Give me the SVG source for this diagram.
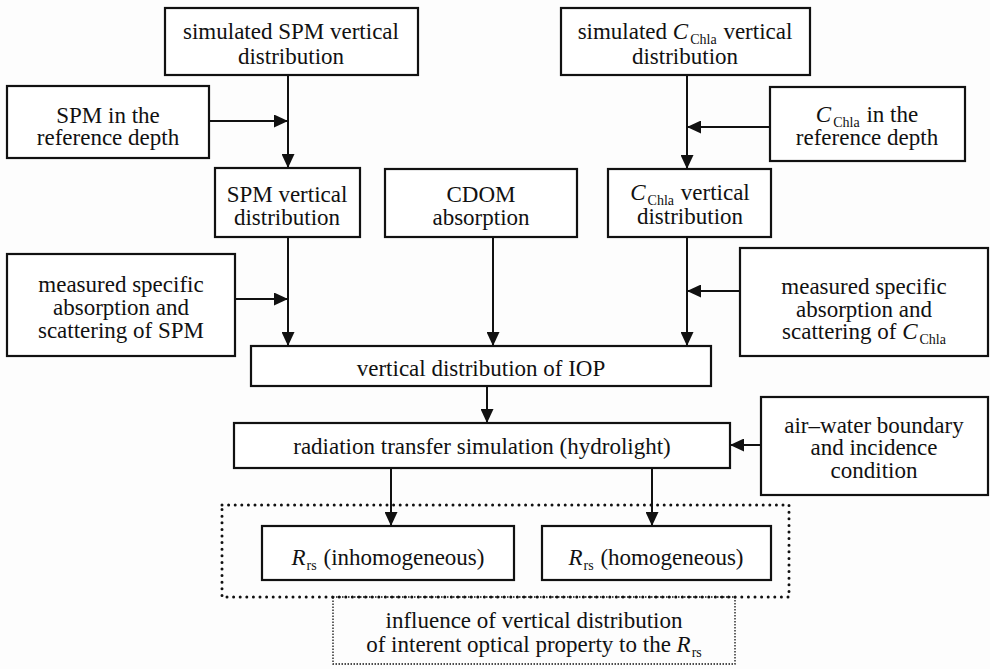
<svg xmlns="http://www.w3.org/2000/svg" width="990" height="669" viewBox="0 0 990 669">
<defs>
<style>
.box{fill:#fff;stroke:#111;stroke-width:2.2}
.t{font-family:'Liberation Serif','Times New Roman',serif;font-size:23px;fill:#111;text-anchor:middle}
.sub{font-size:14px}
.it{font-style:italic}
.c{stroke:#111;stroke-width:2;fill:none}
</style>
<marker id="ah" markerUnits="userSpaceOnUse" markerWidth="15" markerHeight="13" refX="14" refY="6.5" orient="auto">
<path d="M0,0 L14,6.5 L0,13 z" fill="#111"/>
</marker>
</defs>
<rect width="990" height="669" fill="#fdfdfd"/>

<g id="connectors">
<line class="c" x1="288" y1="75" x2="288" y2="168" marker-end="url(#ah)"/>
<line class="c" x1="209" y1="121" x2="288" y2="121" marker-end="url(#ah)"/>
<line class="c" x1="687" y1="75" x2="687" y2="169" marker-end="url(#ah)"/>
<line class="c" x1="770" y1="127" x2="687" y2="127" marker-end="url(#ah)"/>
<line class="c" x1="288" y1="237" x2="288" y2="346" marker-end="url(#ah)"/>
<line class="c" x1="235" y1="299" x2="288" y2="299" marker-end="url(#ah)"/>
<line class="c" x1="493" y1="237" x2="493" y2="346" marker-end="url(#ah)"/>
<line class="c" x1="687" y1="237" x2="687" y2="346" marker-end="url(#ah)"/>
<line class="c" x1="740" y1="291" x2="687" y2="291" marker-end="url(#ah)"/>
<line class="c" x1="487" y1="386" x2="487" y2="423" marker-end="url(#ah)"/>
<line class="c" x1="761" y1="445" x2="730" y2="445" marker-end="url(#ah)"/>
<line class="c" x1="391" y1="468" x2="391" y2="526" marker-end="url(#ah)"/>
<line class="c" x1="652" y1="468" x2="652" y2="526" marker-end="url(#ah)"/>
</g>

<g id="sim-spm">
<rect class="box" x="165" y="8" width="253" height="67"/>
<text class="t" x="291" y="39">simulated SPM vertical</text>
<text class="t" x="291" y="64">distribution</text>
</g>

<g id="sim-chla">
<rect class="box" x="561" y="8" width="249" height="67"/>
<text class="t" x="685" y="39">simulated <tspan class="it">C</tspan><tspan class="sub" dx="2" dy="5">Chla</tspan><tspan dx="1" dy="-5"> vertical</tspan></text>
<text class="t" x="685" y="64">distribution</text>
</g>

<g id="spm-ref">
<rect class="box" x="7" y="86" width="202" height="72"/>
<text class="t" x="108" y="123">SPM in the</text>
<text class="t" x="108" y="145">reference depth</text>
</g>

<g id="chla-ref">
<rect class="box" x="770" y="87" width="195" height="74"/>
<text class="t" x="867" y="122"><tspan class="it">C</tspan><tspan class="sub" dx="2" dy="5">Chla</tspan><tspan dx="1" dy="-5"> in the</tspan></text>
<text class="t" x="867" y="145">reference depth</text>
</g>

<g id="spm-vert">
<rect class="box" x="215" y="168" width="145" height="69"/>
<text class="t" x="287" y="202">SPM vertical</text>
<text class="t" x="287" y="225">distribution</text>
</g>

<g id="cdom">
<rect class="box" x="385" y="169" width="192" height="68"/>
<text class="t" x="481" y="202">CDOM</text>
<text class="t" x="481" y="225">absorption</text>
</g>

<g id="chla-vert">
<rect class="box" x="608" y="169" width="163" height="68"/>
<text class="t" x="690" y="200"><tspan class="it">C</tspan><tspan class="sub" dx="2" dy="5">Chla</tspan><tspan dx="1" dy="-5"> vertical</tspan></text>
<text class="t" x="690" y="224">distribution</text>
</g>

<g id="meas-spm">
<rect class="box" x="7" y="254" width="228" height="102"/>
<text class="t" x="121" y="292">measured specific</text>
<text class="t" x="121" y="315">absorption and</text>
<text class="t" x="121" y="338">scattering of SPM</text>
</g>

<g id="meas-chla">
<rect class="box" x="740" y="248" width="248" height="108"/>
<text class="t" x="864" y="294">measured specific</text>
<text class="t" x="864" y="317">absorption and</text>
<text class="t" x="864" y="339">scattering of <tspan class="it">C</tspan><tspan class="sub" dx="2" dy="5">Chla</tspan></text>
</g>

<g id="iop">
<rect class="box" x="251" y="346" width="460" height="40"/>
<text class="t" x="481" y="376">vertical distribution of IOP</text>
</g>

<g id="radiation">
<rect class="box" x="234" y="423" width="496" height="45"/>
<text class="t" x="482" y="454">radiation transfer simulation (hydrolight)</text>
</g>

<g id="air-water">
<rect class="box" x="761" y="397" width="227" height="98"/>
<text class="t" x="874" y="433">air–water boundary</text>
<text class="t" x="874" y="455">and incidence</text>
<text class="t" x="874" y="478">condition</text>
</g>

<g id="group-box">
<rect x="222" y="505" width="567" height="92" fill="none" stroke="#111" stroke-width="3" stroke-dasharray="0 6.6" stroke-linecap="round"/>
</g>

<g id="rrs-inhomo">
<rect class="box" x="262" y="526" width="252" height="54"/>
<text class="t" x="388" y="565"><tspan class="it">R</tspan><tspan class="sub" dx="1" dy="5">rs</tspan><tspan dx="1" dy="-5"> (inhomogeneous)</tspan></text>
</g>

<g id="rrs-homo">
<rect class="box" x="542" y="526" width="229" height="54"/>
<text class="t" x="656" y="565"><tspan class="it">R</tspan><tspan class="sub" dx="1" dy="5">rs</tspan><tspan dx="1" dy="-5"> (homogeneous)</tspan></text>
</g>

<g id="influence">
<rect x="333" y="597" width="402" height="67" fill="none" stroke="#111" stroke-width="1.3" stroke-dasharray="1.5 1.5"/>
<text class="t" x="534" y="628">influence of vertical distribution</text>
<text class="t" x="534" y="652">of interent optical property to the <tspan class="it">R</tspan><tspan class="sub" dx="1" dy="5">rs</tspan></text>
</g>
</svg>
